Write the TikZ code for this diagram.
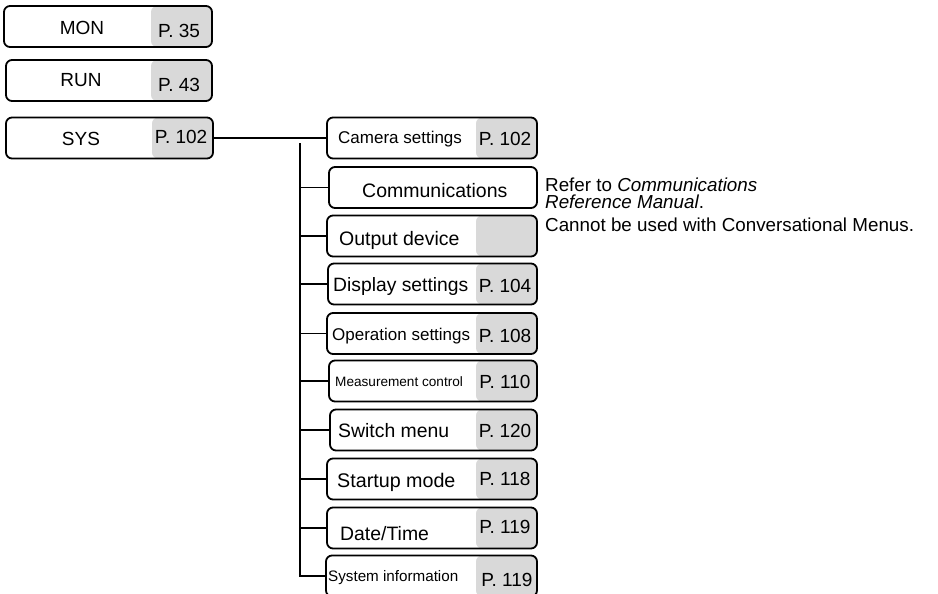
\documentclass[tikz,border=0pt]{standalone}
\usepackage{fontspec}
\setmainfont{Liberation Sans}
\usetikzlibrary{positioning}

\definecolor{pagegray}{RGB}{217,217,217}
\newcommand{\sizept}[1]{\fontsize{#1}{#1}\selectfont}

\tikzset{
  menubox/.style={draw, line width=1.8pt, rounded corners=6pt,
    minimum width=#1, minimum height=41pt, inner sep=0pt},
  pagebox/.style={menubox=#1, path picture={
      \fill[pagegray] ([xshift=-61pt]path picture bounding box.north east)
        rectangle (path picture bounding box.south east);}},
  toptext/.style={anchor=base, inner sep=0pt, font=\sizept{19}},
  subtext/.style={anchor=base west, inner sep=0pt, font=\sizept{#1}},
  subtext/.default=19,
  pagetext/.style={anchor=base, inner sep=0pt, font=\sizept{19}},
  note/.style={inner sep=0pt, font=\fontsize{18.8}{16.8}\selectfont, align=left},
  branch/.style={line width=1.1pt}
}

\begin{document}
\begin{tikzpicture}[x=1pt, y=-1pt]
  \useasboundingbox (0,0) rectangle (938,594);

  % main menu
  \node[pagebox=208pt] (mon) at (108,26.5) {};
  \node[toptext] (montxt) at (82,35) {MON};
  \node[pagetext] (monpg) at (179,38) {P. 35};

  \node[pagebox=206pt] (run) at (109,80.5) {};
  \node[toptext] (runtxt) at (81,87) {RUN};
  \node[pagetext] (runpg) at (179,92) {P. 43};

  \node[pagebox=207pt] (sys) at (109.5,138) {};
  \node[toptext] (systxt) at (81,146) {SYS};
  \node[pagetext] (syspg) at (181,143) {P. 102};

  % SYS submenu
  \node[pagebox=210pt] (cam) at (432,138) {};
  \node[subtext=17] (camtxt) at (338,143) {Camera settings};
  \node[pagetext] (campg) at (505,145) {P. 102};

  \node[menubox=208pt] (comm) at (433,187.5) {};
  \node[subtext=19.5] (commtxt) at (362,197) {Communications};

  \node[pagebox=210pt] (out) at (432,236) {};
  \node[subtext=19.5] (outtxt) at (339,245) {Output device};

  \node[pagebox=209pt] (disp) at (432.5,284) {};
  \node[subtext=19.3] (disptxt) at (333,291) {Display settings};
  \node[pagetext] (disppg) at (505,292) {P. 104};

  \node[pagebox=210pt] (oper) at (432,333.5) {};
  \node[subtext=17] (opertxt) at (332,340) {Operation settings};
  \node[pagetext] (operpg) at (505,342) {P. 108};

  \node[pagebox=208pt] (meas) at (433,381) {};
  \node[subtext=13.6] (meastxt) at (335,386) {Measurement control};
  \node[pagetext] (measpg) at (505,388) {P. 110};

  \node[pagebox=207pt] (swm) at (433.5,430) {};
  \node[subtext=19.4] (swmtxt) at (338,437) {Switch menu};
  \node[pagetext] (swmpg) at (505,437) {P. 120};

  \node[pagebox=210pt] (boot) at (432,479) {};
  \node[subtext=19.7] (boottxt) at (337,487) {Startup mode};
  \node[pagetext] (bootpg) at (505,485) {P. 118};

  \node[pagebox=210pt] (date) at (432,528) {};
  \node[subtext=19.4] (datetxt) at (340,540) {Date/Time};
  \node[pagetext] (datepg) at (505,533) {P. 119};

  \node[pagebox=211pt] (info) at (431.5,576) {};
  \node[subtext=15.2] (infotxt) at (328,581) {System information};
  \node[pagetext] (infopg) at (507,586) {P. 119};

  % notes
  \node[note, anchor=north west] (commnote) at (545,178)
    {Refer to \textit{Communications}\\\textit{Reference Manual}.};
  \node[note, anchor=base west] (outnote) at (545,231)
    {Cannot be used with Conversational Menus.};

  % tree lines
  \coordinate (trunk) at (300,143);
  \draw[branch] (sys.east) -- (cam.west);
  \draw[branch] (trunk) |- (comm.west);
  \draw[branch] (trunk) |- (out.west);
  \draw[branch] (trunk) |- (disp.west);
  \draw[branch] (trunk) |- (oper.west);
  \draw[branch] (trunk) |- (meas.west);
  \draw[branch] (trunk) |- (swm.west);
  \draw[branch] (trunk) |- (boot.west);
  \draw[branch] (trunk) |- (date.west);
  \draw[branch] (trunk) |- (info.west);
\end{tikzpicture}
\end{document}
